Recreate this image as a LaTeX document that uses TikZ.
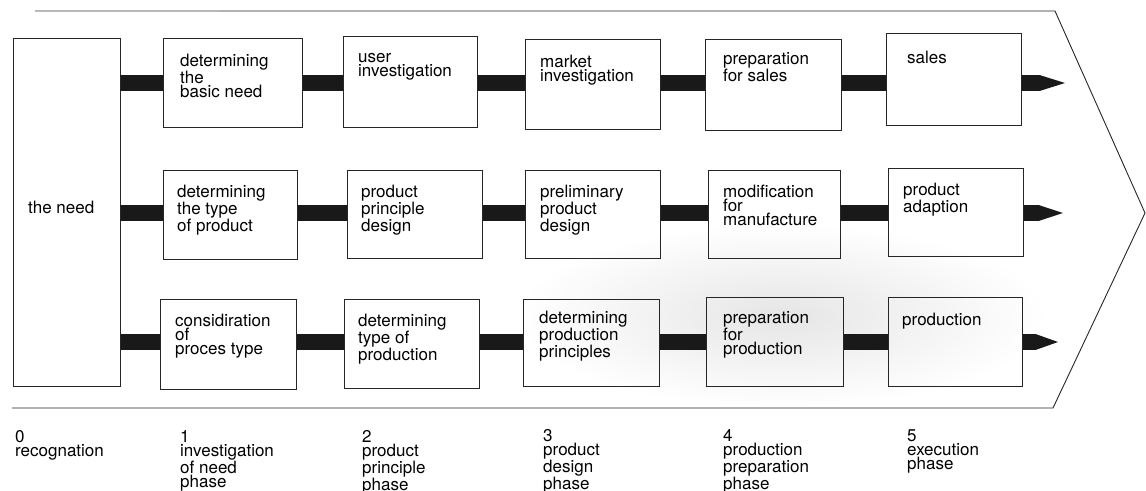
\documentclass[tikz,border=0pt]{standalone}
\usepackage{fontspec}
\setmainfont{TeX Gyre Heros}
\usetikzlibrary{calc}
\begin{document}
\begin{tikzpicture}[x=1pt,y=-1pt,
  stagebox/.style={draw=black!85, line width=0.9pt, anchor=north west, inner sep=0pt},
  txt/.style={anchor=north west, yshift=12.5pt, align=left, inner sep=0pt,
    font=\fontsize{17pt}{14pt}\selectfont,
    execute at begin node={\rule{0pt}{12.5pt}}},
  bar/.style={draw=black!90, line width=16pt},
  head/.style={fill=black!90},
  outline/.style={draw=black!85, line width=0.9pt}]
\useasboundingbox (0,0) rectangle (1146,490);

% soft grey patch behind the production preparation box
\shade[inner color=gray!20, outer color=white] (782,316) ellipse [x radius=265, y radius=92];

% outer arrow-shaped frame
\draw[gray!55, line width=1.4pt] (35,11) -- (220,11);
\draw[outline] (220,11) -- (1055,11) -- (1145,213) -- (1053,408) -- (12,408);

% row heights of the flow bars
\coordinate (r1) at (0,83);
\coordinate (r2) at (0,213);
\coordinate (r3) at (0,342);

% boxes
\node[stagebox, minimum width=107pt, minimum height=348pt] (need) at (13,38) {};
\node[stagebox, minimum width=139pt, minimum height=89pt] (c11) at (163,38) {};
\node[stagebox, minimum width=134pt, minimum height=89pt] (c21) at (163,170) {};
\node[stagebox, minimum width=136pt, minimum height=90pt] (c31) at (160,299) {};
\node[stagebox, minimum width=134pt, minimum height=91pt] (c12) at (343,36) {};
\node[stagebox, minimum width=135pt, minimum height=88pt] (c22) at (347,170) {};
\node[stagebox, minimum width=135pt, minimum height=89pt] (c32) at (344,299) {};
\node[stagebox, minimum width=135pt, minimum height=90pt] (c13) at (525,39) {};
\node[stagebox, minimum width=135pt, minimum height=88pt] (c23) at (525,170) {};
\node[stagebox, minimum width=136pt, minimum height=87pt] (c33) at (523,299) {};
\node[stagebox, minimum width=136pt, minimum height=91pt] (c14) at (705,39) {};
\node[stagebox, minimum width=132pt, minimum height=88pt] (c24) at (708,170) {};
\node[stagebox, minimum width=137pt, minimum height=89pt] (c34) at (706,297) {};
\node[stagebox, minimum width=135pt, minimum height=92pt] (c15) at (886,33) {};
\node[stagebox, minimum width=135pt, minimum height=88pt] (c25) at (888,168) {};
\node[stagebox, minimum width=134pt, minimum height=89pt] (c35) at (888,297) {};

% box texts (positions give the first baseline)
\node[txt] (t0) at (28,213) {the need};
\node[txt] (t11) at (180,66) {determining\\the\\basic need};
\node[txt] (t12) at (358,66) {user\\investigation};
\node[txt] (t13) at (540,67) {market\\investigation};
\node[txt] (t14) at (723,65) {preparation\\for sales};
\node[txt] (t15) at (907,63) {sales};
\node[txt] (t21) at (177,197) {determining\\the type\\of product};
\node[txt] (t22) at (361,197) {product\\principle\\design};
\node[txt] (t23) at (540,197) {preliminary\\product\\design};
\node[txt] (t24) at (723,197) {modification\\for\\manufacture};
\node[txt] (t25) at (903,195) {product\\adaption};
\node[txt] (t31) at (175,326) {considiration\\of\\proces type};
\node[txt] (t32) at (358,326) {determining\\type of\\production};
\node[txt] (t33) at (539,323) {determining\\production\\principles};
\node[txt] (t34) at (723,324) {preparation\\for\\production};
\node[txt] (t35) at (902,325) {production};

% flow bars between the boxes
\foreach \r/\a/\b in {r1/need/c11, r1/c11/c12, r1/c12/c13, r1/c13/c14, r1/c14/c15,
                      r2/need/c21, r2/c21/c22, r2/c22/c23, r2/c23/c24, r2/c24/c25,
                      r3/need/c31, r3/c31/c32, r3/c32/c33, r3/c33/c34, r3/c34/c35}
  \draw[bar] (\a.east |- \r) -- (\b.west |- \r);

% outgoing arrows
\coordinate (e1) at (1040,83);
\coordinate (e2) at (1039,213);
\coordinate (e3) at (1036,342);
\foreach \b/\e/\l in {c15/e1/25, c25/e2/24, c35/e3/22} {
  \draw[bar] (\b.east |- \e) -- (\e);
  \fill[head] ($(\e)+(-0.5,-8)$) -- ($(\e)+(\l,0)$) -- ($(\e)+(-0.5,8)$) -- cycle;
}

% phase labels
\node[txt] (p0) at (15,443) {0\\recognation};
\node[txt] (p1) at (180,443) {1\\investigation\\of need\\phase};
\node[txt] (p2) at (362,443) {2\\product\\principle\\phase};
\node[txt] (p3) at (543,442) {3\\product\\design\\phase};
\node[txt] (p4) at (723,442) {4\\production\\preparation\\phase};
\node[txt] (p5) at (907,442) {5\\execution\\phase};
\end{tikzpicture}
\end{document}
